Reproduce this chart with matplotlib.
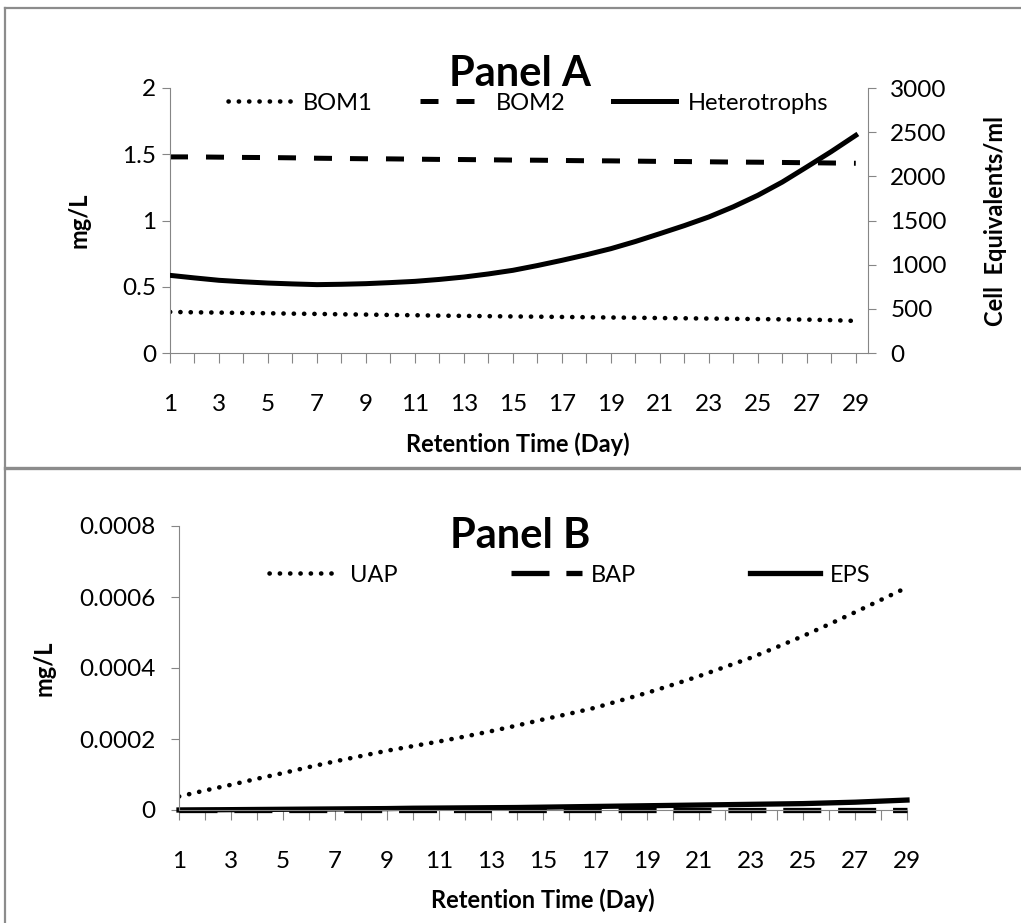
import matplotlib
matplotlib.use("Agg")
import matplotlib.pyplot as plt
from matplotlib.lines import Line2D
from matplotlib.ticker import FixedLocator, MultipleLocator

plt.rcParams['font.family'] = ['Lato', 'DejaVu Sans']

W, H = 1021, 923
GREY = '#868686'

days = list(range(1, 30))
odd_days = list(range(1, 30, 2))

# Panel A (mg/L on left, cells on right)
bom1 = [0.310, 0.307, 0.305, 0.302, 0.300, 0.297, 0.295, 0.292, 0.290, 0.287,
        0.285, 0.282, 0.280, 0.278, 0.276, 0.274, 0.272, 0.270, 0.268, 0.266,
        0.264, 0.262, 0.260, 0.258, 0.256, 0.254, 0.252, 0.248, 0.242]
bom2 = [1.480, 1.480, 1.478, 1.476, 1.475, 1.473, 1.470, 1.468, 1.466, 1.465,
        1.463, 1.461, 1.460, 1.458, 1.456, 1.455, 1.453, 1.451, 1.450, 1.448,
        1.446, 1.445, 1.443, 1.441, 1.440, 1.438, 1.436, 1.434, 1.432]
heterotrophs = [879, 850, 823, 806, 792, 782, 774, 778, 785, 797,
                811, 833, 860, 895, 936, 990, 1049, 1112, 1181, 1262,
                1351, 1442, 1540, 1655, 1785, 1935, 2106, 2280, 2464]

# Panel B (mg/L)
uap = [3.8e-5, 5.5e-5, 7.1e-5, 8.8e-5, 1.04e-4, 1.21e-4, 1.37e-4, 1.52e-4, 1.67e-4, 1.80e-4,
       1.93e-4, 2.07e-4, 2.22e-4, 2.38e-4, 2.55e-4, 2.71e-4, 2.88e-4, 3.09e-4, 3.30e-4, 3.53e-4,
       3.77e-4, 4.03e-4, 4.29e-4, 4.59e-4, 4.90e-4, 5.23e-4, 5.57e-4, 5.92e-4, 6.27e-4]
bap = [0.0, 0.0, 0.0, 0.0, 0.0, 0.0, 0.0, 0.0, 0.0, 0.0,
       0.0, 0.0, 0.0, 0.0, 0.0, 0.0, 0.0, 0.0, 0.0, 0.0,
       0.0, 0.0, 0.0, 0.0, 0.0, 0.0, 0.0, 0.0, 0.0]
eps = [0.0, 0.5e-6, 1.0e-6, 1.5e-6, 2.0e-6, 2.5e-6, 3.0e-6, 3.5e-6, 4.0e-6, 5.0e-6,
       5.5e-6, 6.0e-6, 6.5e-6, 7.0e-6, 8.0e-6, 9.0e-6, 10e-6, 11e-6, 12e-6, 13e-6,
       14e-6, 15e-6, 16e-6, 17e-6, 18e-6, 20e-6, 22e-6, 25e-6, 28e-6]

left_ticks_a = [0, 0.5, 1, 1.5, 2]
left_labels_a = ['0', '0.5', '1', '1.5', '2']
right_ticks_a = [0, 500, 1000, 1500, 2000, 2500, 3000]
ticks_b = [0, 0.0002, 0.0004, 0.0006, 0.0008]
labels_b = ['0', '0.0002', '0.0004', '0.0006', '0.0008']


def px(x, y):
    return x / W, 1 - y / H


def style_x(ax):
    ax.xaxis.set_major_locator(FixedLocator(odd_days))
    ax.xaxis.set_minor_locator(MultipleLocator(1))
    ax.tick_params(axis='x', which='both', direction='out', length=7.5,
                   width=0.8, color=GREY, labelsize=17.5, pad=22)
    ax.spines['bottom'].set_color(GREY)
    ax.spines['top'].set_visible(False)


fig = plt.figure(figsize=(W / 100, H / 100), dpi=100)

# panel frames
for xs, ys, lw in [((5, 1021), (8, 8), 1.6), ((5, 5), (8, 923), 1.6), ((5, 1021), (467.5, 467.5), 2.4)]:
    (x0, y0), (x1, y1) = px(xs[0], ys[0]), px(xs[1], ys[1])
    fig.add_artist(Line2D([x0, x1], [y0, y1], transform=fig.transFigure, color='#8c8c8c', lw=lw))

# ---------------- Panel A ----------------
axA = fig.add_axes([170 / W, 1 - 353 / H, 698 / W, 265 / H])
axA.plot(days, bom1, color='black', lw=3.3, linestyle=(0, (0.05, 2.2)), dash_capstyle='round', label='BOM1')
axA.plot(days, bom2, color='black', lw=3.6, linestyle=(0, (3.6, 3.6)), label='BOM2')
axA.set_xlim(1, 29.5)
axA.set_ylim(0, 2)
axA.set_yticks(left_ticks_a)
axA.set_yticklabels(left_labels_a)
axA.tick_params(axis='y', direction='out', length=6, width=0.8, color=GREY, labelsize=17.5, pad=4)
style_x(axA)
axA.spines['left'].set_color(GREY)
axA.spines['right'].set_visible(False)
axA.set_ylabel('mg/L', fontsize=17, fontweight='bold', va='center')
axA.yaxis.set_label_coords(-0.13, 0.5)
axA.set_xlabel('Retention Time (Day)', fontsize=17, fontweight='bold', va='center')
axA.xaxis.set_label_coords(0.4986, -0.343)

axA2 = axA.twinx()
axA2.plot(days, heterotrophs, color='black', lw=3.6, label='Heterotrophs')
axA2.set_ylim(0, 3000)
axA2.set_yticks(right_ticks_a)
axA2.tick_params(axis='y', direction='out', length=6, width=0.8, color=GREY, labelsize=17.5, pad=10)
for s in ['top', 'left', 'bottom']:
    axA2.spines[s].set_visible(False)
axA2.spines['right'].set_color(GREY)
axA2.set_ylabel('Cell  Equivalents/ml', fontsize=17, fontweight='bold', rotation=90, va='center')
axA2.yaxis.set_label_coords(1.182, 0.5)

handles = axA.get_lines() + axA2.get_lines()
axA2.legend(handles, [h.get_label() for h in handles], ncol=3, frameon=False,
            loc='center', bbox_to_anchor=(0.513, 0.943), fontsize=17,
            handlelength=2.7, handletextpad=0.5, columnspacing=2.0, borderpad=0)

fig.text(520 / W, 1 - 86 / H, 'Panel A', fontsize=30, fontweight='bold', ha='center', va='baseline')

# ---------------- Panel B ----------------
axB = fig.add_axes([179 / W, 1 - 810 / H, 728 / W, 284 / H])
axB.plot(days, uap, color='black', lw=3.3, linestyle=(0, (0.05, 2.2)), dash_capstyle='round', label='UAP')
axB.plot(days, bap, color='black', lw=3.8, linestyle=(0, (7.2, 3.2)), label='BAP', clip_on=False)
axB.plot(days, eps, color='black', lw=3.8, label='EPS', clip_on=False)
axB.set_xlim(1, 29)
axB.set_ylim(0, 0.0008)
axB.set_yticks(ticks_b)
axB.set_yticklabels(labels_b)
axB.tick_params(axis='y', direction='out', length=6, width=0.8, color=GREY, labelsize=17.5, pad=11)
style_x(axB)
axB.spines['left'].set_color(GREY)
axB.spines['right'].set_visible(False)
axB.set_ylabel('mg/L', fontsize=17, fontweight='bold', va='center')
axB.yaxis.set_label_coords(-0.185, 0.5)
axB.set_xlabel('Retention Time (Day)', fontsize=17, fontweight='bold', va='center')
axB.xaxis.set_label_coords(0.5, -0.318)
axB.legend(ncol=3, frameon=False, loc='center', bbox_to_anchor=(0.537, 0.827), fontsize=17,
           handlelength=3.0, handletextpad=0.4, columnspacing=4.8, borderpad=0)

fig.text(520 / W, 1 - 548 / H, 'Panel B', fontsize=30, fontweight='bold', ha='center', va='baseline')

fig.savefig('out.png', dpi=100)
